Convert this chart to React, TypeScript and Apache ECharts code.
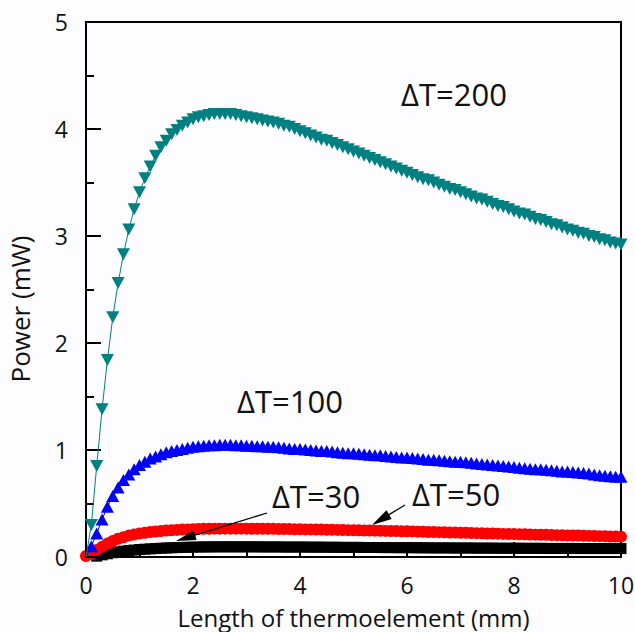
import React, { useEffect, useRef } from "react";
import * as echarts from "echarts";

const LENGTH_MM = [
  0, 0.1, 0.2, 0.3, 0.4, 0.5, 0.6, 0.7, 0.8, 0.9,
  1, 1.1, 1.2, 1.3, 1.4, 1.5, 1.6, 1.7, 1.8, 1.9,
  2, 2.1, 2.2, 2.3, 2.4, 2.5, 2.6, 2.7, 2.8, 2.9,
  3, 3.1, 3.2, 3.3, 3.4, 3.5, 3.6, 3.7, 3.8, 3.9,
  4, 4.1, 4.2, 4.3, 4.4, 4.5, 4.6, 4.7, 4.8, 4.9,
  5, 5.1, 5.2, 5.3, 5.4, 5.5, 5.6, 5.7, 5.8, 5.9,
  6, 6.1, 6.2, 6.3, 6.4, 6.5, 6.6, 6.7, 6.8, 6.9,
  7, 7.1, 7.2, 7.3, 7.4, 7.5, 7.6, 7.7, 7.8, 7.9,
  8, 8.1, 8.2, 8.3, 8.4, 8.5, 8.6, 8.7, 8.8, 8.9,
  9, 9.1, 9.2, 9.3, 9.4, 9.5, 9.6, 9.7, 9.8, 9.9,
  10,
];

const P_DT200 = [
  0, 0.30, 0.85, 1.38, 1.84, 2.24, 2.56, 2.83, 3.06, 3.25,
  3.41, 3.54, 3.65, 3.75, 3.83, 3.89, 3.95, 3.99, 4.03, 4.06,
  4.09, 4.11, 4.12, 4.13, 4.14, 4.14, 4.14, 4.14, 4.13, 4.12,
  4.11, 4.10, 4.09, 4.08, 4.07, 4.06, 4.05, 4.03, 4.02, 4.00,
  3.98, 3.96, 3.94, 3.92, 3.90, 3.89, 3.87, 3.85, 3.83, 3.81,
  3.79, 3.77, 3.75, 3.73, 3.71, 3.69, 3.67, 3.65, 3.63, 3.61,
  3.59, 3.57, 3.55, 3.53, 3.52, 3.50, 3.48, 3.46, 3.44, 3.43,
  3.41, 3.39, 3.37, 3.35, 3.34, 3.32, 3.30, 3.28, 3.27, 3.25,
  3.23, 3.21, 3.20, 3.18, 3.16, 3.15, 3.13, 3.11, 3.10, 3.08,
  3.06, 3.05, 3.03, 3.02, 3.00, 2.99, 2.97, 2.96, 2.94, 2.93,
  2.92,
];

const P_DT100 = [
  0, 0.10, 0.22, 0.35, 0.47, 0.57, 0.65, 0.72, 0.77, 0.82,
  0.86, 0.89, 0.92, 0.94, 0.96, 0.98, 0.99, 1.00, 1.01, 1.02,
  1.03, 1.035, 1.04, 1.045, 1.045, 1.05, 1.05, 1.05, 1.045, 1.045,
  1.04, 1.04, 1.035, 1.035, 1.03, 1.03, 1.025, 1.02, 1.015, 1.01,
  1.01, 1.005, 1.00, 0.995, 0.99, 0.99, 0.985, 0.98, 0.975, 0.97,
  0.97, 0.965, 0.96, 0.955, 0.95, 0.95, 0.945, 0.94, 0.935, 0.93,
  0.93, 0.925, 0.92, 0.915, 0.91, 0.91, 0.905, 0.90, 0.895, 0.89,
  0.89, 0.885, 0.88, 0.875, 0.87, 0.865, 0.86, 0.855, 0.85, 0.845,
  0.84, 0.835, 0.83, 0.825, 0.82, 0.82, 0.815, 0.81, 0.805, 0.80,
  0.80, 0.795, 0.79, 0.785, 0.78, 0.77, 0.765, 0.76, 0.755, 0.75,
  0.75,
];

const P_DT50 = [
  0.01, 0.03, 0.065, 0.095, 0.125, 0.15, 0.17, 0.185, 0.20, 0.21,
  0.22, 0.227, 0.233, 0.238, 0.243, 0.247, 0.25, 0.253, 0.256, 0.258,
  0.26, 0.262, 0.263, 0.264, 0.265, 0.265, 0.265, 0.265, 0.265, 0.265,
  0.265, 0.264, 0.264, 0.264, 0.263, 0.263, 0.262, 0.262, 0.261, 0.260,
  0.259, 0.258, 0.258, 0.257, 0.256, 0.255, 0.254, 0.253, 0.252, 0.251,
  0.250, 0.249, 0.248, 0.247, 0.246, 0.245, 0.244, 0.243, 0.242, 0.241,
  0.240, 0.239, 0.237, 0.236, 0.234, 0.233, 0.232, 0.231, 0.229, 0.228,
  0.227, 0.226, 0.224, 0.223, 0.221, 0.220, 0.219, 0.218, 0.216, 0.215,
  0.214, 0.213, 0.212, 0.210, 0.209, 0.208, 0.207, 0.206, 0.204, 0.203,
  0.202, 0.201, 0.200, 0.199, 0.197, 0.196, 0.195, 0.194, 0.192, 0.191,
  0.190,
];

const P_DT30 = [
  null, null, 0.008, 0.02, 0.03, 0.04, 0.048, 0.055, 0.06, 0.065,
  0.07, 0.073, 0.076, 0.079, 0.082, 0.084, 0.086, 0.088, 0.09, 0.091,
  0.092, 0.093, 0.094, 0.094, 0.095, 0.095, 0.095, 0.095, 0.095, 0.095,
  0.095, 0.095, 0.095, 0.094, 0.094, 0.094, 0.094, 0.093, 0.093, 0.093,
  0.093, 0.093, 0.092, 0.092, 0.092, 0.091, 0.091, 0.091, 0.090, 0.090,
  0.090, 0.090, 0.089, 0.089, 0.089, 0.088, 0.088, 0.088, 0.087, 0.087,
  0.087, 0.087, 0.086, 0.086, 0.086, 0.085, 0.085, 0.085, 0.085, 0.084,
  0.084, 0.084, 0.084, 0.083, 0.083, 0.083, 0.083, 0.082, 0.082, 0.082,
  0.082, 0.082, 0.081, 0.081, 0.081, 0.081, 0.080, 0.080, 0.080, 0.080,
  0.080, 0.080, 0.079, 0.079, 0.079, 0.079, 0.079, 0.079, 0.079, 0.079,
  0.079,
];

const X_TICKS = [0, 2, 4, 6, 8, 10];
const Y_TICKS = [0, 1, 2, 3, 4, 5];

const FONT = "'Open Sans', 'Noto Sans', sans-serif";

function pairs(values: (number | null)[], hideFirstSymbol: boolean) {
  return LENGTH_MM.map((x, i) => {
    const v = values[i];
    if (v === null) return [x, null];
    if (hideFirstSymbol && i === 0) return { value: [x, v], symbol: "none" };
    return [x, v];
  });
}

function arrow(sx: number, sy: number, tx: number, ty: number, headLen: number, halfW: number) {
  const dx = tx - sx;
  const dy = ty - sy;
  const len = Math.sqrt(dx * dx + dy * dy);
  const ux = dx / len;
  const uy = dy / len;
  const bx = tx - ux * headLen;
  const by = ty - uy * headLen;
  const px = -uy;
  const py = ux;
  return [
    {
      type: "line",
      z: 100,
      shape: { x1: sx, y1: sy, x2: bx, y2: by },
      style: { stroke: "#000", lineWidth: 1.2 },
    },
    {
      type: "polygon",
      z: 100,
      shape: {
        points: [
          [tx, ty],
          [bx + px * halfW, by + py * halfW],
          [bx - px * halfW, by - py * halfW],
        ],
      },
      style: { fill: "#000" },
    },
  ];
}

function label(text: string, x: number, y: number) {
  return {
    type: "text",
    z: 100,
    x,
    y,
    style: {
      text,
      font: `31px ${FONT}`,
      fill: "#111",
      textAlign: "center",
      textVerticalAlign: "middle",
    },
  };
}

export default function App() {
  const ref = useRef<HTMLDivElement>(null);

  useEffect(() => {
    document.body.style.margin = "0";
    if (!ref.current) return;
    const chart = echarts.init(ref.current, null, { renderer: "svg" });

    const option: any = {
      animation: false,
      backgroundColor: "#fdfcfe",
      grid: {
        left: 86,
        right: 14,
        top: 22,
        bottom: 75,
        outerBoundsMode: "none",
        containLabel: false,
        show: true,
        borderColor: "#000",
        borderWidth: 2,
        backgroundColor: "transparent",
      },
      xAxis: {
        type: "value",
        min: 0,
        max: 10,
        interval: 2,
        z: 5,
        name: "Length of thermoelement (mm)",
        nameLocation: "middle",
        nameGap: 48,
        nameTextStyle: { fontFamily: FONT, fontSize: 24, color: "#111" },
        axisLine: { show: true, lineStyle: { color: "#000", width: 2 } },
        axisTick: { show: true, inside: true, length: 15, lineStyle: { color: "#000", width: 2 } },
        minorTick: { show: true, splitNumber: 2, length: 6, lineStyle: { color: "#000", width: 2 } },
        axisLabel: {
          margin: 16,
          fontFamily: FONT,
          fontSize: 23,
          color: "#111",
          formatter: (v: number) => (X_TICKS.includes(v) ? String(v) : ""),
        },
        splitLine: { show: false },
      },
      yAxis: {
        type: "value",
        min: 0,
        max: 5,
        interval: 1,
        z: 5,
        axisLine: { show: true, lineStyle: { color: "#000", width: 2 } },
        axisTick: { show: true, inside: true, length: 15, lineStyle: { color: "#000", width: 2 } },
        minorTick: { show: true, splitNumber: 2, length: 8, lineStyle: { color: "#000", width: 2 } },
        axisLabel: {
          margin: 18,
          fontFamily: FONT,
          fontSize: 23,
          color: "#111",
          formatter: (v: number) => (Y_TICKS.includes(v) ? String(v) : ""),
        },
        splitLine: { show: false },
      },
      series: [
        {
          name: "ΔT=30",
          type: "line",
          data: pairs(P_DT30, false),
          symbol: "rect",
          symbolSize: 11,
          itemStyle: { color: "#000" },
          lineStyle: { color: "#000", width: 1 },
          z: 2,
        },
        {
          name: "ΔT=50",
          type: "line",
          data: pairs(P_DT50, false),
          symbol: "circle",
          symbolSize: 12,
          itemStyle: { color: "#ff0000" },
          lineStyle: { color: "#ff0000", width: 1 },
          z: 3,
        },
        {
          name: "ΔT=100",
          type: "line",
          data: pairs(P_DT100, true),
          symbol: "triangle",
          symbolSize: [13, 12],
          itemStyle: { color: "#0000ff" },
          lineStyle: { color: "#0000ff", width: 1 },
          z: 4,
        },
        {
          name: "ΔT=200",
          type: "line",
          data: pairs(P_DT200, true),
          symbol: "triangle",
          symbolRotate: 180,
          symbolSize: [13, 12],
          itemStyle: { color: "#008080" },
          lineStyle: { color: "#008080", width: 1 },
          z: 5,
        },
      ],
      graphic: [
        {
          type: "text",
          z: 100,
          x: 20,
          y: 309,
          rotation: Math.PI / 2,
          style: {
            text: "Power (mW)",
            font: `26px ${FONT}`,
            fill: "#111",
            textAlign: "center",
            textVerticalAlign: "middle",
          },
        },
        label("ΔT=200", 454, 94),
        label("ΔT=100", 290, 401),
        label("ΔT=30", 316, 496),
        label("ΔT=50", 456, 494),
        ...arrow(267, 513, 176, 541, 20, 5),
        ...arrow(405, 505, 372, 525, 20, 5),
      ],
    };

    chart.setOption(option);
    return () => chart.dispose();
  }, []);

  return <div ref={ref} style={{ width: 635, height: 632 }} />;
}
